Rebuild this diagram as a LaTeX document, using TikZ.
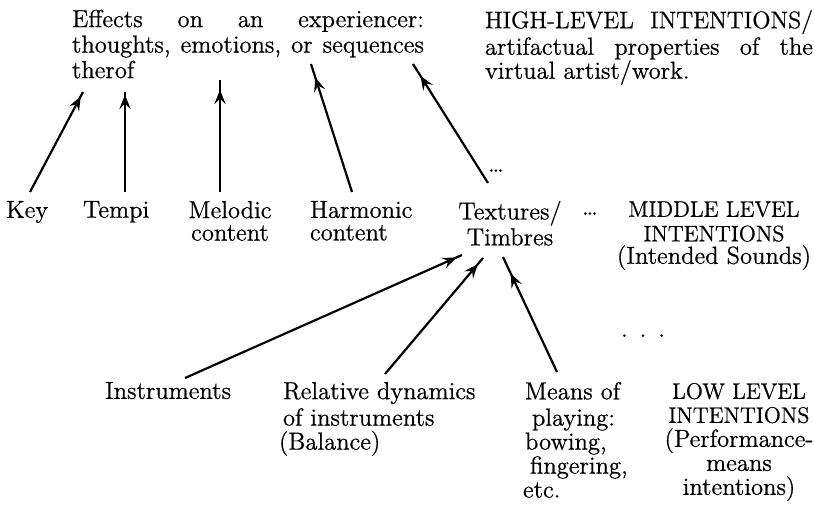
\documentclass[tikz,border=0pt]{standalone}
\usepackage{fontspec}
\setmainfont{Latin Modern Roman}[FakeBold=0.7]
\usetikzlibrary{arrows.meta,decorations.markings}
\newcommand{\myfs}[1]{\fontsize{12.3}{#1}\selectfont}
\newcommand{\capsz}{\fontsize{11.2}{12}\selectfont}
\begin{document}
\begin{tikzpicture}[x=0.5pt,y=-0.5pt,
  every node/.style={inner sep=0pt,outer sep=0pt},
  txt/.style={anchor=north west,align=left,font=\myfs{#1}},
  txt/.default=12pt,
  ctxt/.style={anchor=north,align=center,font=\myfs{#1}},
  ctxt/.default=12pt,
  conn/.style={line width=1.1pt,postaction={decorate},
    decoration={markings,mark=at position #1 with {\arrow{Stealth[length=7pt,width=5.6pt,inset=2.6pt]}}}},
  conn/.default=-1pt]
\useasboundingbox (0,0) rectangle (815,521);

% high level
\node[txt=12.75pt,text width=176pt] (eff) at (72,9.2) {\noindent\strut\makebox[176pt][l]{Effects \hfill on \hfill an \hfill experiencer:}\\\makebox[176pt][l]{thoughts, \hfill emotions, \hfill or \hfill sequences}\\therof};
\node[txt=12pt,text width=164pt] (high) at (485,10.2) {\noindent\strut\makebox[164pt][l]{\fontsize{12}{12}\selectfont HIGH-LEVEL \hfill INTENTIONS/}\\\makebox[164pt][l]{artifactual \hfill properties \hfill of \hfill the}\\virtual artist/work.};

% middle level
\node[txt=11.25pt] (key) at (6,201) {\strut Key};
\node[txt=11.25pt] (tempi) at (83,201) {\strut Tempi};
\node[ctxt=11.25pt] (mel) at (230,201) {\strut Melodic\\content};
\node[txt=11.25pt] (harm) at (310,201) {\strut Harmonic\\content};
\node[ctxt=11.25pt] (tex) at (510,201) {\strut Textures/\\Timbres};
\node[txt=11.25pt] (mdots) at (582,199) {\strut\dots};
\node[ctxt=11.25pt] (mid) at (714,201) {\strut{\capsz MIDDLE LEVEL}\\{\capsz INTENTIONS}\\(Intended Sounds)};
\node[txt] (tdots) at (488,155) {\strut\dots};
\node[txt] (sdots) at (621,320) {\strut.\hspace{6pt}.\hspace{6pt}.};

% low level
\node[txt=12pt] (inst) at (105,382) {\strut Instruments};
\node[txt=12pt] (rel) at (279,382) {\strut\hspace*{2pt}Relative dynamics\\\hspace*{2pt}of instruments\\(Balance)};
\node[txt=12pt] (means) at (523,382) {\strut\hspace*{1pt}Means of\\\hspace*{4.5pt}playing:\\\hspace*{1pt}bowing,\\\hspace*{3.5pt}fingering,\\etc.};
\node[ctxt=12pt] (low) at (739,382) {\strut{\capsz LOW LEVEL}\\{\capsz INTENTIONS}\\(Performance-\\means\hspace*{22pt}\\intentions)};

% connector ends
\coordinate (keyT) at (30,192);   \coordinate (effA) at (83,92);
\coordinate (tempiT) at (125,192); \coordinate (effB) at (125,92);
\coordinate (melT) at (220,192);  \coordinate (effC) at (220,80);
\coordinate (harmT) at (352,192); \coordinate (effD) at (311,64);
\coordinate (texT) at (488,183);  \coordinate (effE) at (413,64);
\coordinate (instT) at (185,378); \coordinate (texA) at (462,255);
\coordinate (relT) at (385,374);  \coordinate (texB) at (483,258);
\coordinate (meansT) at (557,372); \coordinate (texC) at (503,257);

\draw[conn=-2.5pt] (keyT) -- (effA);
\draw[conn=-1.5pt] (tempiT) -- (effB);
\draw[conn=-5pt] (melT) -- (effC);
\draw[conn=-7pt] (harmT) -- (effD);
\draw[conn=-7pt] (texT) -- (effE);
\draw[conn=-3pt] (instT) -- (texA);
\draw[conn=-4pt] (relT) -- (texB);
\draw[conn=-9pt] (meansT) -- (texC);
\end{tikzpicture}
\end{document}
